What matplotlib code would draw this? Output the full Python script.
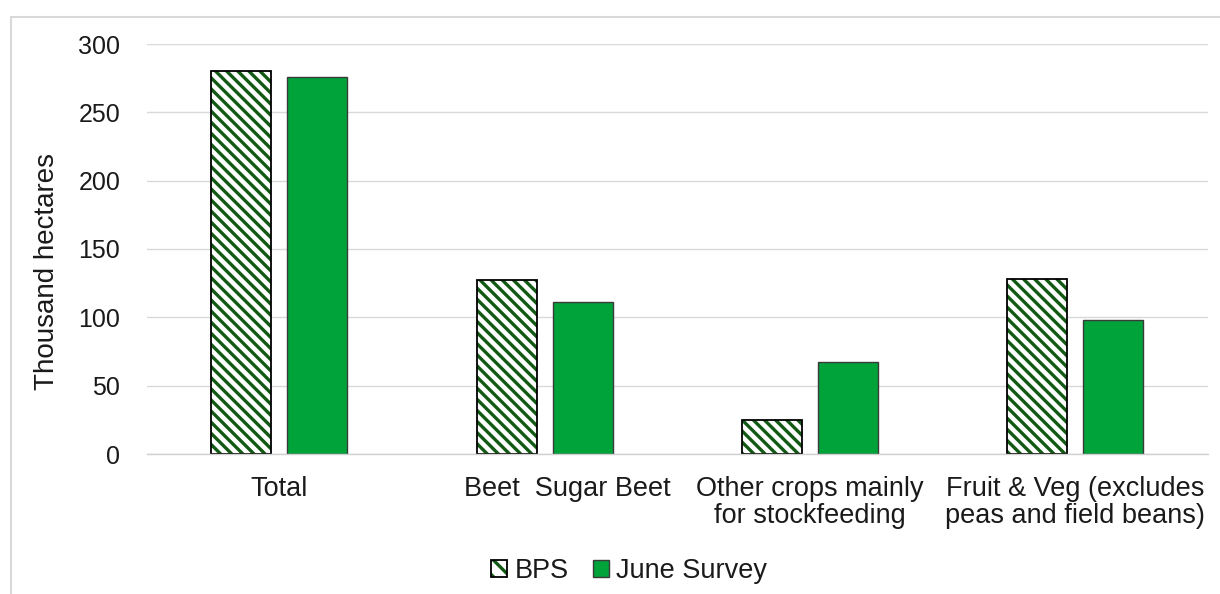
import matplotlib
matplotlib.use("Agg")
import matplotlib.pyplot as plt
import matplotlib.transforms as mtransforms
from matplotlib.patches import Rectangle, Patch
from matplotlib.legend_handler import HandlerTuple
import numpy as np

categories = ["Total", "Beet  Sugar Beet", "Other crops mainly\nfor stockfeeding",
              "Fruit & Veg (excludes\npeas and field beans)"]
bps = [280, 127, 25, 128]
june_survey = [276, 111, 67, 98]
series_names = ["BPS", "June Survey"]
yticks = [0, 50, 100, 150, 200, 250, 300]

plt.rcParams["font.family"] = ["Liberation Sans", "DejaVu Sans"]
plt.rcParams["hatch.linewidth"] = 2.4

fig = plt.figure(figsize=(12.2, 5.94), dpi=100)
ax = fig.add_axes([146.75 / 1220, 1 - 454 / 594, (1208 - 146.75) / 1220, 410 / 594])

x = np.arange(len(categories))
width = 0.226
offset = 0.143
green = "#00A23A"
hatch_green = "#125A14"
text_color = "#1a1a1a"
bps_hatch = "\\\\\\"

# BPS: dark green diagonal hatch on white, then a black outline on top
ax.bar(x - offset, bps, width, facecolor="white", edgecolor=hatch_green, linewidth=0,
       hatch=bps_hatch, zorder=3)
ax.bar(x - offset, bps, width, fill=False, edgecolor="black", linewidth=1.3, zorder=3.5)
ax.bar(x + offset, june_survey, width, facecolor=green, edgecolor="#3A3A3A", linewidth=1.0,
       zorder=3)

ax.set_xlim(-0.5, len(categories) - 0.5)
ax.set_ylim(0, 300)
ax.set_yticks(yticks)
ax.set_xticks(x)
ax.set_xticklabels(categories, fontsize=19.5, color=text_color, linespacing=1.05)
ax.tick_params(axis="y", labelsize=18, length=0, pad=19, labelcolor=text_color)
ax.tick_params(axis="x", length=0, pad=16)
ax.yaxis.grid(True, color="#D9D9D9", linewidth=1.0, zorder=0)
for side in ("top", "right", "left"):
    ax.spines[side].set_visible(False)
ax.spines["bottom"].set_color("#D0D0D0")
ax.spines["bottom"].set_linewidth(1.0)
ax.spines["bottom"].set_zorder(4)

ax.set_ylabel("Thousand hectares", fontsize=20, color=text_color)
ax.yaxis.set_label_coords(-0.0817, 0.446)

# shift the sugar beet label slightly to the right
lbl = ax.get_xticklabels()[1]
lbl.set_transform(lbl.get_transform() + mtransforms.ScaledTranslation(23 / 100, 0, fig.dpi_scale_trans))

bps_handle = (Patch(facecolor="white", edgecolor=hatch_green, linewidth=0, hatch="\\\\"),
              Patch(fill=False, edgecolor="black", linewidth=1.3))
june_handle = Patch(facecolor=green, edgecolor="#3A3A3A", linewidth=1.0)
fig.legend([bps_handle, june_handle], series_names, loc="center",
           bbox_to_anchor=(0.5156, 0.039), ncol=2, frameon=False,
           fontsize=19.5, handlelength=0.6, handleheight=0.6, handletextpad=0.26,
           columnspacing=0.9, labelcolor=text_color,
           handler_map={tuple: HandlerTuple(ndivide=1, pad=0)})

# outer chart frame
fig.patches.append(Rectangle((10.5 / 1220, -0.05), 1.1, 1 - 16.5 / 594 + 0.05,
                             transform=fig.transFigure, fill=False,
                             edgecolor="#D9D9D9", linewidth=1.5, zorder=0))

fig.savefig("out.png", dpi=100, facecolor="white")
